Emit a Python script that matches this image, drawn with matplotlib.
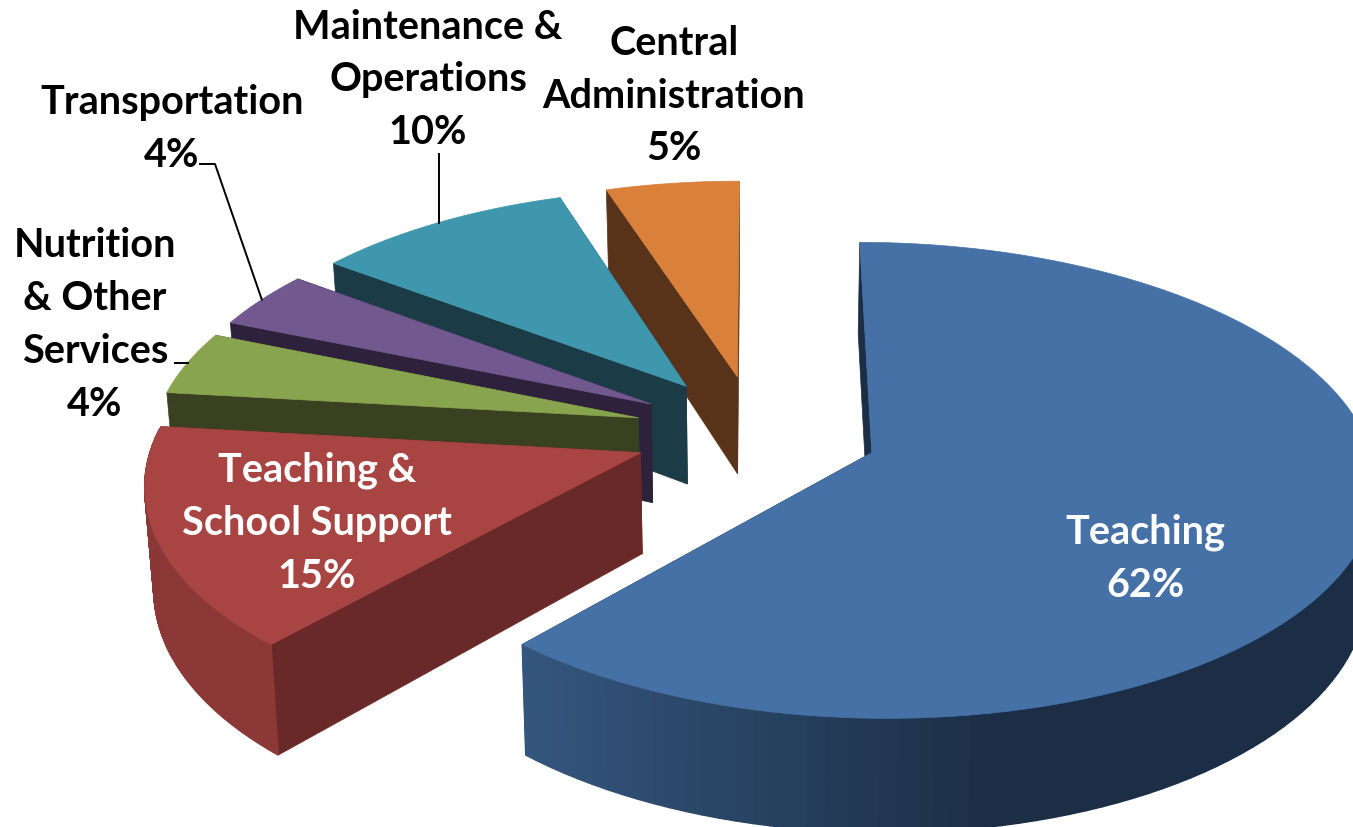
import numpy as np
import matplotlib
matplotlib.use('Agg')
import matplotlib.pyplot as plt
from matplotlib.colors import to_rgb

# slices, clockwise from 12 o'clock; shares estimated from the angles, labels round them
names = ['Teaching', 'Teaching &\nSchool Support', 'Nutrition\n& Other\nServices',
         'Transportation', 'Maintenance &\nOperations', 'Central\nAdministration']
shares = [61.6, 15.2, 4.4, 4.0, 9.8, 5.0]
top_colors = ['#4571a6', '#a84543', '#88a44e', '#71588f', '#3f97ae', '#d9803b']
cut_colors = ['#1c2e45', '#6a2929', '#394120', '#2d213c', '#1b3b47', '#58331a']
wall_left = ['#35577f', '#8c3836', '#5a6d33', '#4b3a60', '#2a6474', '#90552a']
wall_right = ['#1b2e45', '#8a3735', '#5a6d33', '#4b3a60', '#2a6474', '#90552a']

# label centres in pixels
label_x = [1145, 317, 95, 172, 428, 674]
label_y = [559, 523, 325, 129, 80, 96]
label_c = ['white', 'white', 'black', 'black', 'black', 'black']

# projection of the tilted pie onto the picture, in pixels
cx, cy = 756, 433
ax_r, ay_r = 490, 230
skew = 0.006
depth = 0.115
height = 100
explode = 0.25


def project(X, Y, low=False):
    s = 1 / (1 + depth * Y)
    px = cx + ax_r * X * (1 + skew * X) * s
    py = cy - ay_r * Y * s
    if low:
        px = cx + (px - cx) * 0.985
        py = py + height * s
    return px, py


fig = plt.figure(figsize=(13.53, 8.28), dpi=100)
ax = fig.add_axes([0, 0, 1, 1])
ax.set_xlim(0, 1353)
ax.set_ylim(828, 0)
ax.axis('off')

edges = np.cumsum([0] + shares) / sum(shares) * 2 * np.pi
anchors = {}

# back slices first so the front ones cover them
for i in range(len(shares) - 1, -1, -1):
    t0, t1 = edges[i], edges[i + 1]
    mid = (t0 + t1) / 2
    ox, oy = explode * np.sin(mid), explode * np.cos(mid)
    t = np.linspace(t0, t1, 120)
    X = ox + np.sin(t)
    Y = oy + np.cos(t)
    tx, ty = project(X, Y)
    bx, by = project(X, Y, low=True)
    ax0, ay0 = project(ox, oy)
    bx0, by0 = project(ox, oy, low=True)

    # cut faces
    ax.fill([ax0, tx[0], bx[0], bx0], [ay0, ty[0], by[0], by0],
            color=cut_colors[i], lw=0.5)
    ax.fill([ax0, tx[-1], bx[-1], bx0], [ay0, ty[-1], by[-1], by0],
            color=cut_colors[i], lw=0.5)

    # outer wall, shaded along x, only the part facing us
    c0, c1 = np.array(to_rgb(wall_left[i])), np.array(to_rgb(wall_right[i]))
    for j in range(len(t) - 1):
        if np.cos(t[j]) > 0.1:
            continue
        f = np.clip((tx[j] - 520) / 480, 0, 1) if i == 0 else j / len(t)
        ax.fill([tx[j], tx[j + 1], bx[j + 1], bx[j]],
                [ty[j], ty[j + 1], by[j + 1], by[j]],
                color=c0 + (c1 - c0) * f, lw=1.0)

    # top face
    ax.fill(np.r_[ax0, tx], np.r_[ay0, ty], color=top_colors[i], lw=0.5)
    anchors[i] = (tx[len(t) // 2], ty[len(t) // 2])

# leader lines
ax.plot([anchors[4][0], anchors[4][0]], [anchors[4][1], 155], color='black', lw=1.4)
ax.plot([anchors[3][0], 215, 200], [anchors[3][1], 165, 165], color='black', lw=1.4)
ax.plot([anchors[2][0], 175], [anchors[2][1], anchors[2][1]], color='black', lw=1.4)

for i in range(len(shares)):
    ax.text(label_x[i], label_y[i], '%s\n%.0f%%' % (names[i], shares[i]),
            ha='center', va='center', color=label_c[i], family='Lato',
            weight='bold', fontsize=28.5, linespacing=1.53)

fig.savefig('out.png', dpi=100)
